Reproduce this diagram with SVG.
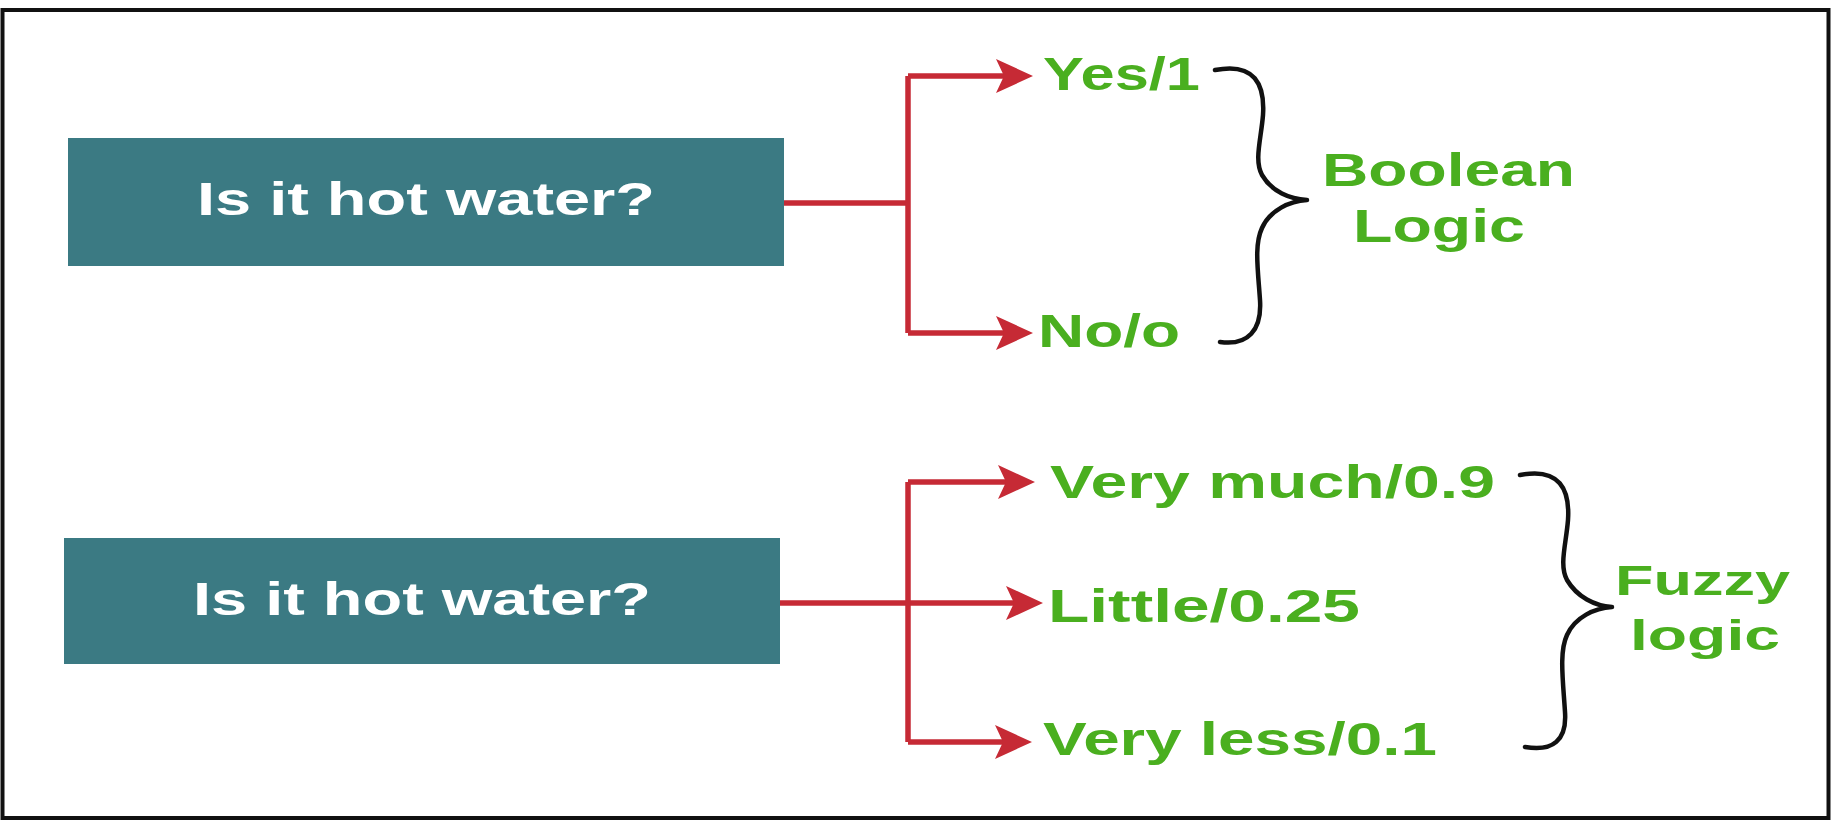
<svg xmlns="http://www.w3.org/2000/svg" width="1831" height="821" viewBox="0 0 1831 821">
<style>
.box{fill:#3b7a83}
.bt{fill:#ffffff;font-family:"Liberation Sans",Arial,sans-serif;font-weight:bold;font-size:47px}
.gt{fill:#4aaf1f;font-family:"Liberation Sans",Arial,sans-serif;font-weight:bold;font-size:47px}
.ln{fill:none;stroke:#c62a35;stroke-width:5.5}
.br{fill:none;stroke:#111111;stroke-width:4.5;stroke-linecap:round;stroke-linejoin:round}
</style>
<defs>
<marker id="ah" markerUnits="userSpaceOnUse" markerWidth="60" markerHeight="60" refX="0" refY="0" orient="auto" overflow="visible">
<path d="M21,0 L-16,-17 L-8,0 L-16,17 Z" fill="#c62a35"/>
</marker>
</defs>
<rect x="2.5" y="10" width="1826" height="808" fill="#ffffff" stroke="#111111" stroke-width="4"/>
<g id="q1">
<rect class="box" x="68" y="138" width="716" height="128"/>
<text class="bt" x="197" y="215" textLength="458" lengthAdjust="spacingAndGlyphs">Is it hot water?</text>
</g>
<g id="q2">
<rect class="box" x="64" y="538" width="716" height="126"/>
<text class="bt" x="193" y="615" textLength="458" lengthAdjust="spacingAndGlyphs">Is it hot water?</text>
</g>
<g id="connectors">
<path class="ln" d="M784,203 H908"/>
<path class="ln" d="M908,76 V333"/>
<path class="ln" d="M908,76 H1012" marker-end="url(#ah)"/>
<path class="ln" d="M908,333 H1012" marker-end="url(#ah)"/>
<path class="ln" d="M780,603 H1022" marker-end="url(#ah)"/>
<path class="ln" d="M908,482 V742"/>
<path class="ln" d="M908,482 H1014" marker-end="url(#ah)"/>
<path class="ln" d="M908,742 H1011" marker-end="url(#ah)"/>
</g>
<g id="yes"><text class="gt" x="1043" y="90" textLength="157" lengthAdjust="spacingAndGlyphs">Yes/1</text></g>
<g id="no"><text class="gt" x="1038" y="347" textLength="142" lengthAdjust="spacingAndGlyphs">No/o</text></g>
<g id="boolean-brace"><path class="br" d="M1215,70 C1255,62 1265,85 1263,115 C1261,140 1254,160 1262,175 C1272,192 1290,199 1307,200 C1290,201 1270,210 1262,228 C1254,245 1258,270 1260,300 C1262,330 1248,346 1220,342"/></g>
<g id="boolean-logic">
<text class="gt" x="1322" y="186" textLength="253" lengthAdjust="spacingAndGlyphs">Boolean</text>
<text class="gt" x="1353" y="242" textLength="172" lengthAdjust="spacingAndGlyphs">Logic</text>
</g>
<g id="verymuch"><text class="gt" x="1050" y="498" textLength="445" lengthAdjust="spacingAndGlyphs">Very much/0.9</text></g>
<g id="little"><text class="gt" x="1048" y="622" textLength="312" lengthAdjust="spacingAndGlyphs">Little/0.25</text></g>
<g id="veryless"><text class="gt" x="1043" y="755" textLength="394" lengthAdjust="spacingAndGlyphs">Very less/0.1</text></g>
<g id="fuzzy-brace"><path class="br" d="M1520,475 C1560,467 1570,490 1568,520 C1566,545 1559,565 1567,580 C1577,597 1595,606 1612,607 C1595,608 1575,617 1567,635 C1559,652 1563,680 1565,712 C1567,740 1553,752 1525,747"/></g>
<g id="fuzzy-logic">
<text class="gt" x="1615" y="595" textLength="175" lengthAdjust="spacingAndGlyphs" style="font-size:43px">Fuzzy</text>
<text class="gt" x="1630" y="650" textLength="150" lengthAdjust="spacingAndGlyphs" style="font-size:43px">logic</text>
</g>
</svg>
